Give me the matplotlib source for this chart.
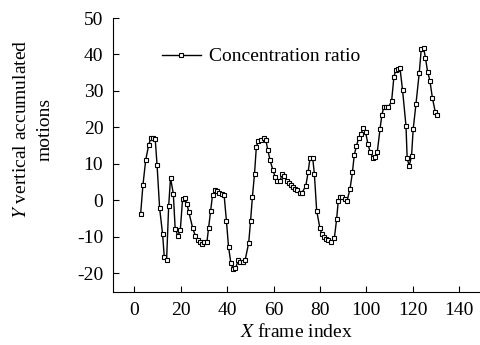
import matplotlib
matplotlib.use("Agg")
import matplotlib.pyplot as plt

plt.rcParams['font.family'] = ['Liberation Serif', 'DejaVu Serif']
plt.rcParams['mathtext.fontset'] = 'stix'
plt.rcParams['axes.unicode_minus'] = False

# frame index / concentration ratio
frame = [2.7, 3.7, 4.9, 6.2, 7.2, 8.0, 9.0, 9.8, 10.9, 12.2, 12.9, 13.9, 14.8, 15.6,
         16.8, 17.6, 18.8, 19.8, 20.8, 21.7, 22.7, 23.5, 25.1, 26.3, 27.3, 28.1, 29.1,
         30.1, 31.3, 32.0, 32.9, 33.7, 34.9, 35.7, 36.7, 37.7, 38.7, 39.7, 40.6, 41.6,
         42.7, 43.6, 44.8, 45.6, 46.9, 47.8, 49.3, 50.1, 50.9, 51.8, 52.6, 53.5, 54.4,
         55.7, 56.7, 57.5, 58.5, 59.7, 60.7, 61.7, 62.8, 63.8, 64.7, 65.7, 66.6, 67.6,
         68.6, 69.4, 70.3, 71.3, 72.3, 73.9, 74.9, 75.7, 76.9, 77.6, 78.6, 80.0, 80.9,
         81.8, 82.6, 83.6, 84.6, 86.2, 87.2, 87.9, 88.7, 89.7, 90.8, 91.7, 93.0, 94.0,
         94.8, 95.7, 96.7, 97.7, 98.7, 99.7, 100.7, 101.7, 102.9, 103.6, 104.7, 105.9,
         106.7, 107.6, 108.5, 109.5, 110.9, 111.9, 112.8, 113.5, 114.5, 115.6, 117.1,
         117.6, 118.5, 119.5, 120.2, 121.4, 122.8, 123.7, 124.7, 125.5, 126.4, 127.4,
         128.5, 129.7, 130.5]
ratio = [-3.9, 4.1, 11.0, 15.2, 17.1, 17.1, 16.8, 9.6, -2.2, -9.4, -15.6, -16.5, -1.6, 6.1,
         1.8, -7.8, -9.8, -8.3, 0.3, 0.6, -1.1, -3.3, -7.5, -9.8, -10.8, -11.4, -11.9,
         -11.4, -11.4, -7.7, -3.1, 1.4, 2.8, 2.4, 1.9, 1.7, 1.4, -5.7, -12.8, -17.2,
         -19.0, -18.7, -16.5, -16.9, -17.1, -16.3, -11.7, -5.7, 0.9, 7.2, 14.7, 16.3, 16.5,
         17.1, 16.5, 13.8, 11.0, 8.3, 6.4, 5.3, 5.3, 7.2, 6.7, 5.3, 4.7, 4.1,
         3.7, 3.2, 2.8, 2.1, 2.1, 3.9, 7.6, 11.5, 11.5, 7.2, -2.9, -7.7, -9.4,
         -10.1, -10.6, -10.8, -11.6, -10.5, -5.2, -0.2, 1.0, 0.9, 0.3, -0.2, 3.2, 7.6,
         12.4, 14.8, 17.1, 18.2, 19.8, 18.6, 15.4, 13.1, 11.6, 11.9, 13.1, 19.5,
         23.4, 25.7, 25.7, 25.5, 27.2, 33.9, 35.8, 35.9, 36.3, 30.3, 20.4,
         11.5, 9.4, 12.2, 19.5, 26.4, 34.9, 41.6, 41.8, 39.0, 35.3, 32.8,
         28.0, 24.3, 23.4]

fig = plt.figure(figsize=(4.8, 3.45), dpi=100)
ax = fig.add_axes([0.2354, 0.1536, 0.7646, 0.7942])

ax.plot(frame, ratio, color='black', linewidth=1.0, marker='s', markersize=3.5,
        markerfacecolor='white', markeredgecolor='black', markeredgewidth=0.8,
        label='Concentration ratio')

ax.set_xlim(-9.2, 149)
ax.set_ylim(-25.2, 50)
ax.set_xticks(range(0, 141, 20))
ax.set_yticks(range(-20, 51, 10))
ax.spines['top'].set_visible(False)
ax.spines['right'].set_visible(False)
ax.tick_params(direction='in', length=4, width=0.8, labelsize=14)
ax.tick_params(axis='x', pad=7)
ax.tick_params(axis='y', pad=7)

ax.set_xlabel('$X$ frame index', fontsize=14, labelpad=3)
ax.set_ylabel('$Y$ vertical accumulated\nmotions', fontsize=14, linespacing=1.45)
ax.yaxis.set_label_coords(-0.163, 0.595)

ax.legend(loc='upper left', bbox_to_anchor=(0.085, 0.955), frameon=False, fontsize=14,
          handlelength=2.0, handletextpad=0.45)

fig.savefig('out.png', dpi=100)
